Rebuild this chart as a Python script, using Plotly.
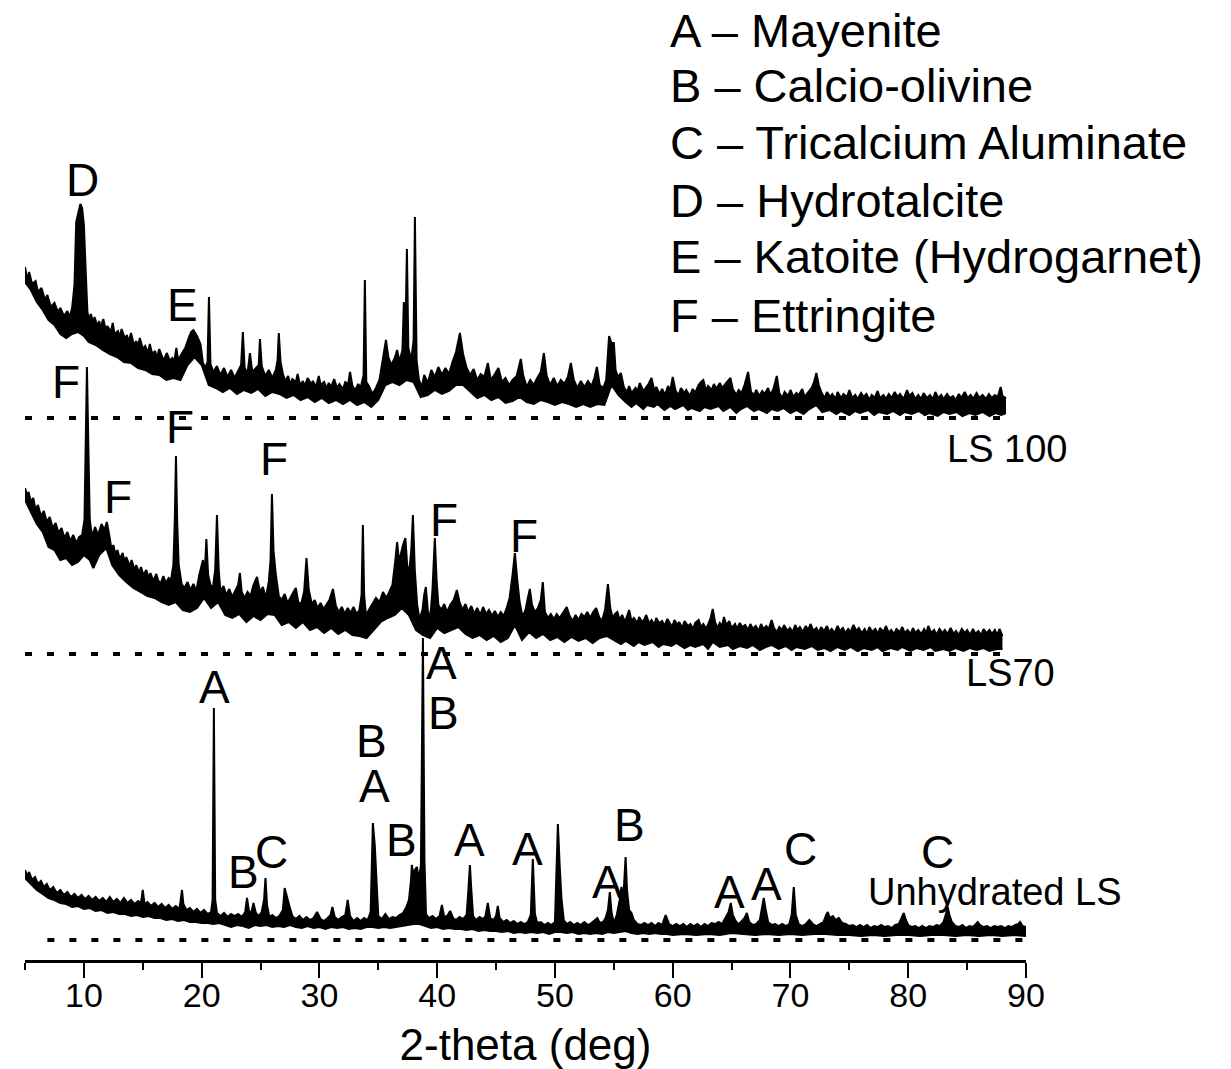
import plotly.graph_objects as go

# ---------------- data: (2-theta [deg], stacked intensity [a.u.]) ----------------
# upper / lower edges of each noisy diffractogram band
ls100_top = [(5.0, 693), (5.2, 680), (5.35, 688), (5.6, 676), (5.9, 679), (6.1, 668), (6.4, 672), (6.7, 660),
    (6.9, 665), (7.2, 653), (7.5, 657), (7.8, 648), (8.0, 652), (8.3, 644), (8.6, 649), (8.8, 643), (9.0, 652),
    (9.2, 675), (9.35, 738), (9.5, 745), (9.7, 756), (9.85, 752), (10.0, 735), (10.15, 690),
    (10.3, 648), (10.45, 641), (10.6, 646), (10.8, 636), (10.9, 643), (11.15, 634), (11.3, 639), (11.4, 632),
    (11.65, 641), (11.85, 630), (12.0, 634), (12.3, 628), (12.45, 637), (12.6, 626), (12.9, 629), (13.05, 622),
    (13.2, 631), (13.5, 621), (13.65, 625), (13.8, 618), (14.0, 627), (14.25, 615), (14.45, 619), (14.6, 613),
    (14.75, 622), (15.0, 611), (15.2, 614), (15.45, 607), (15.6, 616), (15.8, 606), (16.05, 609), (16.2, 602),
    (16.4, 611), (16.65, 603), (16.8, 600), (17.05, 607), (17.3, 599), (17.5, 602),
    (17.7, 600), (17.85, 612), (18.0, 600), (18.3, 606), (18.6, 612), (18.9, 622), (19.1, 628),
    (19.3, 630), (19.6, 624), (19.9, 616), (20.1, 598), (20.3, 592), (20.5, 598), (20.62, 663), (20.75, 596),
    (21.0, 588), (21.3, 594), (21.6, 585), (21.9, 592), (22.2, 583), (22.5, 590), (22.8, 582), (23.1, 590),
    (23.35, 595), (23.5, 628), (23.65, 592), (23.9, 587), (24.1, 607), (24.3, 588), (24.6, 592), (24.85, 595),
    (24.95, 621), (25.1, 594), (25.4, 584), (25.7, 590), (26.0, 582), (26.3, 590), (26.45, 600), (26.55, 627),
    (26.7, 598), (26.9, 586), (27.1, 579), (27.35, 584), (27.5, 576), (27.7, 581), (28.0, 578), (28.15, 586),
    (28.35, 575), (28.6, 579), (28.75, 574), (29.0, 582), (29.3, 576), (29.45, 579), (29.7, 573), (29.95, 584),
    (30.1, 575), (30.4, 578), (30.6, 572), (30.8, 577), (31.0, 573), (31.25, 581), (31.5, 572), (31.7, 576),
    (32.0, 571), (32.2, 578), (32.45, 576), (32.6, 588), (32.8, 574), (33.05, 570), (33.3, 576), (33.5, 572),
    (33.75, 585), (33.86, 680), (33.98, 578), (34.2, 574), (34.5, 566), (34.8, 572), (35.1, 580), (35.4, 600),
    (35.65, 620), (35.85, 603), (36.1, 595), (36.4, 602), (36.6, 610), (36.8, 598), (37.05, 610), (37.17, 658),
    (37.28, 608), (37.43, 711), (37.55, 612), (37.8, 600), (38.0, 620), (38.11, 743), (38.25, 600), (38.45, 580),
    (38.7, 573), (38.9, 585), (39.2, 577), (39.5, 590), (39.8, 583), (40.1, 593), (40.4, 585), (40.7, 592),
    (41.0, 586), (41.3, 598), (41.6, 608), (41.93, 627), (42.2, 606), (42.5, 592), (42.8, 585), (43.1, 591),
    (43.4, 580), (43.7, 586), (44.0, 583), (44.3, 597), (44.55, 580), (44.9, 586), (45.2, 592), (45.5, 578),
    (45.8, 582), (46.1, 575), (46.4, 580), (46.75, 584), (47.0, 598), (47.1, 601), (47.3, 585), (47.6, 573),
    (47.9, 580), (48.2, 575), (48.5, 582), (48.8, 588), (49.06, 607), (49.3, 584), (49.6, 575), (49.9, 582),
    (50.2, 574), (50.5, 580), (50.8, 576), (51.1, 583), (51.35, 597), (51.6, 580), (51.9, 572), (52.2, 579),
    (52.5, 573), (52.8, 579), (53.1, 574), (53.35, 582), (53.56, 593), (53.8, 575), (54.1, 572), (54.35, 580),
    (54.6, 624), (54.8, 617), (55.0, 617), (55.15, 590), (55.35, 583), (55.6, 587), (55.85, 573),
    (56.1, 568), (56.3, 574), (56.5, 567), (56.85, 572), (57.0, 568), (57.2, 577), (57.5, 569), (57.7, 572),
    (57.95, 576), (58.2, 582), (58.45, 569), (58.6, 573), (58.9, 566), (59.1, 571), (59.35, 565), (59.6, 574),
    (59.8, 570), (60.0, 583), (60.25, 569), (60.5, 565), (60.7, 572), (61.0, 567), (61.15, 570), (61.45, 564),
    (61.7, 571), (61.9, 567), (62.2, 575), (62.4, 578), (62.6, 580), (62.85, 569), (63.0, 574), (63.3, 570),
    (63.5, 576), (63.7, 571), (64.0, 577), (64.2, 572), (64.45, 576), (64.7, 580), (64.9, 582), (65.1, 571),
    (65.4, 565), (65.6, 570), (65.85, 567), (66.1, 575), (66.4, 588), (66.65, 568), (66.9, 565), (67.1, 570),
    (67.35, 564), (67.6, 569), (67.8, 566), (68.1, 572), (68.3, 565), (68.55, 571), (68.84, 584), (69.05, 567),
    (69.3, 562), (69.5, 568), (69.8, 564), (70.0, 570), (70.25, 563), (70.5, 567), (70.7, 565), (71.0, 571),
    (71.2, 563), (71.45, 567), (71.8, 572), (72.0, 578), (72.2, 587), (72.4, 575), (72.65, 567), (72.9, 562),
    (73.1, 568), (73.4, 563), (73.55, 566), (73.85, 561), (74.0, 568), (74.3, 562), (74.5, 566), (74.8, 563),
    (75.0, 570), (75.25, 562), (75.5, 565), (75.7, 561), (76.0, 567), (76.2, 563), (76.45, 566), (76.7, 560),
    (76.9, 565), (77.15, 562), (77.4, 569), (77.6, 562), (77.9, 565), (78.1, 561), (78.35, 566), (78.6, 562),
    (78.85, 568), (79.1, 563), (79.3, 566), (79.6, 561), (79.9, 570), (80.1, 564), (80.35, 567), (80.6, 561),
    (80.85, 565), (81.1, 561), (81.3, 567), (81.6, 562), (81.85, 565), (82.1, 561), (82.3, 568), (82.55, 562),
    (82.8, 565), (83.0, 561), (83.3, 566), (83.55, 562), (83.8, 564), (84.05, 560), (84.3, 566), (84.5, 562),
    (84.8, 568), (85.05, 562), (85.3, 565), (85.5, 561), (85.8, 567), (86.05, 562), (86.3, 565), (86.6, 561),
    (86.85, 566), (87.1, 562), (87.35, 565), (87.6, 563), (87.85, 573), (88.0, 564), (88.3, 562)]

ls100_bottom = [(5.0, 678), (5.5, 670), (6.0, 658), (6.5, 650), (7.0, 640), (7.5, 635), (8.0, 626), (8.5, 622),
    (9.0, 626), (9.5, 628), (10.0, 624), (10.4, 618), (11.0, 615), (11.6, 610), (12.2, 606), (12.8, 603),
    (13.4, 598), (14.0, 597), (14.6, 592), (15.2, 590), (15.8, 586), (16.4, 585), (17.0, 580), (17.6, 582),
    (18.2, 580), (18.8, 595), (19.4, 603), (20.0, 595), (20.6, 575), (21.2, 572), (21.8, 568), (22.4, 572),
    (23.0, 566), (23.6, 570), (24.2, 567), (24.8, 571), (25.4, 564), (26.0, 568), (26.6, 566), (27.2, 562),
    (27.8, 565), (28.4, 560), (29.0, 563), (29.6, 558), (30.2, 562), (30.8, 557), (31.4, 560), (32.0, 556),
    (32.6, 560), (33.2, 555), (33.8, 558), (34.4, 553), (35.0, 560), (35.6, 575), (36.2, 578), (36.8, 575),
    (37.4, 580), (38.0, 578), (38.6, 563), (39.2, 565), (39.8, 570), (40.4, 566), (41.0, 569), (41.6, 575),
    (42.2, 575), (42.8, 568), (43.4, 562), (44.0, 565), (44.6, 560), (45.2, 563), (45.8, 557), (46.4, 559),
    (47.0, 563), (47.6, 558), (48.2, 556), (48.8, 560), (49.4, 558), (50.0, 555), (50.6, 558), (51.2, 556),
    (51.8, 553), (52.4, 556), (53.0, 553), (53.6, 556), (54.2, 555), (54.8, 575), (55.4, 565),
    (56.0, 558), (56.5, 553), (56.9, 557), (57.5, 551), (57.8, 555), (58.4, 553), (58.7, 556), (59.3, 550),
    (59.8, 554), (60.2, 551), (60.9, 555), (61.3, 550), (61.6, 552), (62.3, 549), (62.7, 553), (63.2, 551),
    (63.9, 554), (64.3, 549), (64.9, 553), (65.4, 547), (65.8, 551), (66.3, 554), (66.9, 549), (67.3, 551),
    (68.0, 547), (68.4, 551), (68.9, 549), (69.4, 552), (70.0, 547), (70.5, 550), (71.1, 546), (71.5, 550),
    (72.2, 555), (72.7, 548), (73.3, 550), (73.9, 546), (74.3, 549), (75.0, 545), (75.5, 549), (75.9, 547),
    (76.6, 550), (77.1, 545), (77.5, 548), (78.2, 546), (78.7, 549), (79.3, 545), (79.7, 548), (80.3, 546),
    (80.9, 549), (81.4, 545), (81.8, 547), (82.5, 544), (83.0, 548), (83.5, 546), (84.1, 548), (84.6, 544),
    (85.2, 547), (85.7, 545), (86.3, 548), (86.9, 544), (87.4, 547), (87.9, 545), (88.3, 547)]

ls70_top = [(5.0, 472), (5.15, 465), (5.3, 468), (5.5, 458), (5.7, 462), (5.9, 450), (6.1, 455), (6.35, 444),
    (6.6, 449), (6.85, 438), (7.1, 443), (7.35, 432), (7.6, 437), (7.85, 427), (8.1, 432), (8.35, 422),
    (8.6, 428), (8.85, 419), (9.1, 425), (9.35, 417), (9.6, 423), (9.85, 425), (10.05, 440), (10.15, 520),
    (10.26, 593), (10.37, 520), (10.5, 440), (10.7, 423), (10.95, 433), (11.2, 425), (11.5, 436), (11.75, 430),
    (11.95, 438), (12.15, 425), (12.35, 410), (12.5, 415), (12.7, 405), (12.85, 410), (13.05, 401), (13.3, 407),
    (13.45, 398), (13.6, 403), (13.9, 394), (14.05, 400), (14.3, 390), (14.45, 395), (14.7, 387), (14.85, 393),
    (15.05, 385), (15.3, 390), (15.5, 382), (15.65, 387), (15.9, 379), (16.15, 386), (16.3, 380), (16.5, 376),
    (16.75, 384), (16.95, 377), (17.2, 382), (17.4, 380), (17.6, 395),
    (17.72, 440), (17.82, 504), (17.92, 440), (18.05, 395), (18.3, 376), (18.55, 372), (18.8, 378), (19.05, 370),
    (19.3, 376), (19.55, 369), (19.8, 385), (19.95, 392), (20.11, 400), (20.25, 384), (20.4, 421), (20.55, 385),
    (20.75, 375), (20.95, 372), (21.15, 390), (21.3, 445), (21.45, 390), (21.6, 368), (21.85, 374), (22.1, 365),
    (22.35, 371), (22.6, 363), (22.85, 369), (23.1, 375), (23.25, 387), (23.4, 368), (23.65, 362), (23.9, 368),
    (24.15, 364), (24.4, 375), (24.7, 383), (24.95, 368), (25.2, 373), (25.45, 362), (25.7, 378), (25.85, 400),
    (25.97, 466), (26.1, 410), (26.3, 385), (26.55, 364), (26.8, 360), (27.05, 366), (27.3, 357), (27.55, 363),
    (27.8, 368), (28.0, 372), (28.2, 358), (28.45, 356), (28.7, 368), (28.9, 402), (29.1, 370), (29.35, 356),
    (29.6, 360), (29.85, 352), (30.1, 357), (30.35, 351), (30.6, 356), (30.85, 360), (31.15, 371), (31.4, 354),
    (31.65, 348), (31.9, 353), (32.15, 346), (32.4, 352), (32.65, 347), (32.9, 353), (33.15, 346), (33.4, 350),
    (33.58, 365), (33.69, 435), (33.8, 365), (33.95, 345), (34.2, 350), (34.5, 356), (34.8, 362), (35.1, 358),
    (35.4, 368), (35.7, 362), (35.95, 368), (36.2, 375), (36.45, 400), (36.6, 418), (36.75, 400), (36.9, 405),
    (37.1, 415), (37.3, 422), (37.45, 395), (37.6, 385), (37.8, 410), (37.94, 445), (38.1, 390), (38.3, 355),
    (38.5, 341), (38.75, 350), (38.9, 365), (39.04, 373), (39.2, 350), (39.4, 340), (39.6, 370), (39.8, 422),
    (39.95, 380), (40.1, 355), (40.35, 350), (40.6, 356), (40.85, 348), (41.1, 355), (41.4, 360), (41.67, 370),
    (41.9, 358), (42.15, 350), (42.4, 356), (42.65, 348), (42.9, 354), (43.15, 346), (43.4, 352), (43.65, 345),
    (43.9, 353), (44.15, 346), (44.4, 350), (44.65, 344), (44.9, 349), (45.15, 343), (45.4, 348), (45.65, 344),
    (45.9, 352), (46.15, 362), (46.4, 385), (46.6, 407), (46.8, 380), (47.0, 358), (47.25, 343), (47.5, 350),
    (47.7, 362), (47.87, 371), (48.05, 355), (48.3, 348), (48.55, 352), (48.8, 360), (48.97, 378), (49.15, 348),
    (49.4, 342), (49.65, 346), (49.9, 341), (50.15, 346), (50.4, 342), (50.7, 348), (51.0, 353), (51.25, 344),
    (51.5, 339), (51.75, 345), (52.0, 340), (52.25, 346), (52.5, 343), (52.75, 348), (53.0, 342), (53.25, 348),
    (53.5, 352), (53.75, 343), (54.0, 339), (54.25, 350), (54.5, 376), (54.7, 352), (54.9, 342),
    (55.1, 346), (55.3, 348), (55.5, 340), (55.7, 345), (55.95, 338), (56.1, 343), (56.3, 350), (56.5, 339),
    (56.7, 342), (57.0, 337), (57.15, 343), (57.4, 338), (57.6, 341), (57.75, 345), (58.0, 337), (58.2, 340),
    (58.45, 335), (58.6, 342), (58.85, 337), (59.1, 339), (59.3, 334), (59.55, 341), (59.7, 338), (59.95, 333),
    (60.15, 340), (60.4, 335), (60.55, 338), (60.8, 332), (61.0, 339), (61.3, 334), (61.5, 336), (61.75, 331),
    (61.9, 337), (62.2, 340), (62.4, 333), (62.6, 336), (62.85, 331), (63.05, 337), (63.2, 341), (63.4, 351),
    (63.6, 338), (63.8, 332), (64.0, 337), (64.2, 334), (64.35, 343), (64.55, 335), (64.8, 339), (65.0, 332),
    (65.3, 336), (65.45, 331), (65.7, 337), (65.9, 333), (66.15, 335), (66.4, 330), (66.6, 336), (66.8, 331),
    (67.05, 334), (67.3, 329), (67.5, 336), (67.7, 331), (67.95, 334), (68.15, 331), (68.4, 340), (68.6, 332),
    (68.85, 328), (69.05, 333), (69.3, 330), (69.45, 335), (69.75, 329), (69.95, 332), (70.2, 328), (70.4, 335),
    (70.6, 330), (70.8, 333), (71.05, 328), (71.3, 334), (71.5, 330), (71.7, 336), (71.95, 329), (72.2, 332),
    (72.4, 327), (72.6, 333), (72.85, 329), (73.1, 334), (73.3, 328), (73.5, 331), (73.75, 327), (74.0, 334),
    (74.2, 329), (74.45, 332), (74.65, 327), (74.9, 331), (75.1, 328), (75.35, 335), (75.6, 329), (75.8, 332),
    (76.05, 327), (76.3, 331), (76.5, 326), (76.7, 333), (76.95, 328), (77.2, 331), (77.45, 326), (77.6, 332),
    (77.9, 328), (78.1, 334), (78.35, 327), (78.55, 330), (78.8, 326), (79.0, 331), (79.3, 328), (79.5, 333),
    (79.7, 327), (79.95, 330), (80.2, 326), (80.4, 332), (80.6, 327), (80.85, 330), (81.1, 326), (81.35, 331),
    (81.55, 327), (81.7, 334), (81.95, 327), (82.2, 330), (82.4, 325), (82.65, 331), (82.9, 327), (83.1, 330),
    (83.35, 326), (83.6, 332), (83.85, 326), (84.05, 329), (84.3, 325), (84.55, 331), (84.8, 327), (85.0, 330),
    (85.25, 325), (85.5, 331), (85.7, 326), (85.95, 329), (86.2, 325), (86.4, 331), (86.65, 327), (86.9, 330),
    (87.1, 326), (87.35, 330), (87.55, 325), (87.75, 331), (88.0, 324)]

ls70_bottom = [(5.0, 460), (5.5, 448), (6.0, 436), (6.5, 428), (7.0, 413), (7.5, 410), (8.0, 400), (8.5, 402),
    (9.0, 395), (9.5, 398), (10.0, 405), (10.5, 400), (10.8, 392), (11.3, 405), (11.9, 412), (12.4, 395),
    (13.0, 385), (13.6, 378), (14.2, 372), (14.8, 368), (15.4, 364), (16.0, 362), (16.6, 358), (17.2, 355),
    (17.8, 358), (18.4, 350), (19.0, 348), (19.6, 352), (20.2, 362), (20.8, 352), (21.4, 358), (22.0, 345),
    (22.6, 342), (23.2, 346), (23.8, 338), (24.4, 344), (25.0, 340), (25.6, 346), (26.2, 345), (26.8, 335),
    (27.4, 338), (28.0, 332), (28.6, 338), (29.2, 330), (29.8, 333), (30.4, 327), (31.0, 332), (31.6, 326),
    (32.2, 330), (32.8, 325), (33.4, 324), (34.0, 322), (34.6, 330), (35.2, 338), (35.8, 342), (36.4, 345),
    (37.0, 352), (37.6, 345), (38.2, 330), (38.8, 325), (39.4, 322), (40.0, 332), (40.6, 327), (41.2, 330),
    (41.8, 333), (42.4, 326), (43.0, 322), (43.6, 325), (44.2, 320), (44.8, 324), (45.4, 318), (46.0, 322),
    (46.6, 335), (47.2, 320), (47.8, 328), (48.4, 322), (49.0, 326), (49.6, 320), (50.2, 323), (50.8, 318),
    (51.4, 323), (52.0, 319), (52.6, 322), (53.2, 317), (53.8, 322), (54.4, 324),
    (55.0, 320), (55.6, 316), (56.0, 319), (56.7, 314), (57.1, 318), (57.6, 315), (58.3, 318), (58.8, 313),
    (59.2, 316), (59.9, 314), (60.3, 317), (61.0, 312), (61.5, 315), (61.9, 313), (62.6, 316), (63.0, 311),
    (63.4, 318), (64.0, 313), (64.7, 315), (65.1, 311), (65.7, 314), (66.3, 312), (66.8, 315), (67.4, 310),
    (67.9, 313), (68.4, 315), (69.0, 311), (69.6, 314), (70.1, 310), (70.5, 313), (71.2, 311), (71.8, 314),
    (72.3, 310), (72.9, 312), (73.4, 309), (74.0, 313), (74.6, 310), (75.1, 313), (75.7, 309), (76.2, 312),
    (76.9, 310), (77.4, 313), (77.8, 309), (78.5, 312), (79.1, 310), (79.5, 313), (80.2, 309), (80.7, 312),
    (81.3, 310), (81.9, 313), (82.3, 309), (83.0, 311), (83.5, 309), (84.0, 312), (84.7, 309), (85.2, 312),
    (85.8, 310), (86.4, 312), (86.9, 309), (87.5, 311), (88.0, 311)]

unh_top = [(5.0, 90), (5.2, 84), (5.35, 88), (5.6, 80), (5.85, 83), (6.1, 76), (6.35, 79), (6.6, 73), (6.85, 76),
    (7.1, 70), (7.4, 73), (7.7, 67), (8.0, 70), (8.3, 65), (8.6, 68), (8.9, 63), (9.2, 66), (9.5, 62), (9.8, 65),
    (10.1, 61), (10.4, 64), (10.7, 60), (11.0, 63), (11.3, 59), (11.6, 62), (11.9, 58), (12.2, 63), (12.5, 58),
    (12.8, 61), (13.1, 57), (13.4, 62), (13.7, 57), (14.0, 60), (14.3, 56), (14.6, 59), (14.85, 57), (15.0, 70),
    (15.15, 56), (15.4, 58), (15.7, 54), (16.0, 57), (16.3, 53), (16.6, 56), (16.9, 52), (17.2, 55), (17.5, 51),
    (17.8, 54), (18.1, 51), (18.2, 58), (18.33, 70), (18.45, 56), (18.7, 50), (19.0, 52), (19.3, 48), (19.6, 51),
    (19.9, 47), (20.2, 50), (20.5, 46), (20.8, 48), (20.93, 60), (21.04, 252), (21.15, 60), (21.3, 47),
    (21.6, 44), (21.9, 47), (22.2, 43), (22.5, 46), (22.8, 44), (23.1, 46), (23.4, 43), (23.7, 48), (23.85, 62),
    (24.0, 50), (24.2, 46), (24.4, 57), (24.6, 47), (24.85, 44), (25.1, 48), (25.3, 60), (25.42, 82), (25.55, 55),
    (25.75, 43), (26.0, 45), (26.3, 42), (26.6, 44), (26.9, 50), (27.05, 72), (27.25, 62), (27.45, 54),
    (27.7, 44), (28.0, 41), (28.3, 44), (28.6, 40), (28.9, 43), (29.2, 40), (29.5, 42), (29.8, 48), (30.1, 41),
    (30.4, 39), (30.7, 42), (30.95, 45), (31.1, 53), (31.3, 43), (31.6, 40), (31.9, 43), (32.2, 45), (32.4, 60),
    (32.6, 44), (32.9, 39), (33.2, 42), (33.5, 39), (33.8, 42), (34.1, 40), (34.35, 48), (34.54, 137),
    (34.7, 115), (34.85, 80), (35.0, 44), (35.3, 41), (35.6, 46), (35.9, 41), (36.2, 43), (36.5, 42), (36.8, 45),
    (37.1, 47), (37.35, 52), (37.6, 60), (37.78, 80), (37.85, 95), (38.0, 82), (38.1, 90), (38.28, 93),
    (38.45, 80), (38.62, 95), (38.79, 322), (38.92, 100), (39.05, 46), (39.3, 42), (39.6, 44), (39.9, 41),
    (40.2, 44), (40.4, 55), (40.6, 43), (40.85, 44), (41.1, 49), (41.35, 42), (41.6, 40), (41.9, 43), (42.2, 41),
    (42.5, 45), (42.65, 70), (42.78, 95), (42.9, 70), (43.05, 44), (43.3, 40), (43.6, 43), (43.9, 41), (44.1, 44),
    (44.3, 57), (44.5, 42), (44.8, 40), (45.0, 44), (45.15, 54), (45.3, 42), (45.6, 38), (45.9, 40), (46.2, 37),
    (46.5, 39), (46.8, 36), (47.1, 38), (47.4, 36), (47.7, 38), (47.95, 45), (48.12, 101), (48.3, 46), (48.5, 37),
    (48.8, 38), (49.1, 35), (49.4, 37), (49.7, 35), (50.0, 38), (50.12, 80), (50.25, 136), (50.4, 95),
    (50.55, 62), (50.75, 40), (51.0, 36), (51.3, 38), (51.6, 35), (51.9, 37), (52.2, 35), (52.5, 38), (52.8, 35),
    (53.1, 37), (53.4, 40), (53.6, 42), (53.8, 37), (54.1, 38), (54.3, 42), (54.5, 50), (54.66, 68), (54.8, 48),
    (55.0, 37), (55.25, 45), (55.5, 60), (55.65, 73), (55.8, 60), (55.9, 80), (56.0, 103), (56.12, 70),
    (56.3, 50), (56.5, 47), (56.7, 40), (57.0, 36), (57.3, 35), (57.6, 37), (57.9, 35), (58.2, 37), (58.5, 34),
    (58.8, 37), (59.1, 35), (59.4, 45), (59.7, 36), (60.0, 34), (60.3, 36), (60.6, 34), (60.9, 36), (61.2, 33),
    (61.5, 36), (61.8, 34), (62.1, 36), (62.4, 33), (62.7, 36), (63.0, 34), (63.3, 37), (63.6, 36), (63.9, 38),
    (64.2, 36), (64.5, 42), (64.75, 48), (64.93, 57), (65.1, 45), (65.3, 40), (65.55, 36), (65.8, 38), (66.1, 42),
    (66.3, 47), (66.5, 38), (66.8, 35), (67.1, 36), (67.4, 40), (67.6, 52), (67.73, 62), (67.9, 50), (68.1, 38),
    (68.4, 35), (68.7, 36), (69.0, 34), (69.3, 36), (69.6, 34), (69.9, 36), (70.1, 45), (70.28, 73), (70.45, 45),
    (70.7, 36), (71.0, 34), (71.3, 36), (71.6, 40), (71.9, 36), (72.2, 34), (72.5, 36), (72.8, 38), (73.0, 44),
    (73.17, 48), (73.35, 42), (73.6, 44), (73.85, 40), (74.1, 42), (74.4, 37), (74.7, 36), (75.0, 34), (75.3, 35),
    (75.6, 33), (75.9, 35), (76.2, 33), (76.5, 35), (76.8, 32), (77.1, 34), (77.4, 33), (77.7, 35), (78.0, 33),
    (78.3, 34), (78.6, 32), (78.9, 35), (79.2, 36), (79.45, 42), (79.62, 47), (79.8, 40), (80.0, 35), (80.3, 33),
    (80.6, 34), (80.9, 32), (81.2, 34), (81.5, 32), (81.8, 34), (82.1, 33), (82.4, 35), (82.7, 34), (83.0, 38),
    (83.2, 46), (83.35, 53), (83.5, 45), (83.7, 38), (84.0, 34), (84.3, 33), (84.6, 35), (84.9, 32), (85.2, 34),
    (85.5, 33), (85.75, 36), (85.9, 38), (86.1, 35), (86.4, 33), (86.7, 34), (87.0, 32), (87.3, 34), (87.6, 33),
    (87.9, 34), (88.2, 32), (88.5, 34), (88.8, 33), (89.1, 35), (89.35, 36), (89.5, 38), (89.7, 34), (90.0, 33)]

unh_bottom = [(5.0, 82), (5.5, 76), (6.0, 70), (6.5, 66), (7.0, 62), (7.5, 60), (8.0, 57), (8.5, 56), (9.0, 53),
    (9.5, 54), (10.0, 51), (10.5, 52), (11.0, 49), (11.5, 50), (12.0, 47), (12.5, 48), (13.0, 46), (13.5, 46),
    (14.0, 44), (14.5, 45), (15.0, 43), (15.5, 44), (16.0, 42), (16.5, 42), (17.0, 40), (17.5, 41), (18.0, 39),
    (18.5, 40), (19.0, 38), (19.5, 38), (20.0, 37), (20.5, 37), (21.0, 36), (21.5, 37), (22.0, 35), (22.5, 33),
    (23.0, 35), (23.5, 34), (24.0, 32), (24.5, 35), (25.0, 34), (25.5, 35), (26.0, 33), (26.5, 34), (27.0, 33),
    (27.5, 35), (28.0, 33), (28.5, 32), (29.0, 34), (29.5, 32), (30.0, 33), (30.5, 31), (31.0, 33), (31.5, 32),
    (32.0, 33), (32.5, 31), (33.0, 32), (33.5, 31), (34.0, 33), (34.5, 33), (35.0, 32), (35.5, 33), (36.0, 32),
    (36.5, 33), (37.0, 34), (37.5, 35), (38.0, 36), (38.5, 36), (39.0, 34), (39.5, 32), (40.0, 33), (40.5, 31),
    (41.0, 32), (41.5, 31), (42.0, 31), (42.5, 30), (43.0, 31), (43.5, 29), (44.0, 30), (44.5, 29), (45.0, 29),
    (45.5, 28), (46.0, 29), (46.5, 27), (47.0, 28), (47.5, 27), (48.0, 28), (48.5, 27), (49.0, 28), (49.5, 26),
    (50.0, 28), (50.5, 28), (51.0, 27), (51.5, 28), (52.0, 26), (52.5, 27), (53.0, 26), (53.5, 27), (54.0, 26),
    (54.5, 28), (55.0, 27), (55.5, 28), (56.0, 29), (56.5, 27), (57.0, 26), (57.5, 27), (58.0, 26), (58.5, 27),
    (59.0, 26), (59.5, 26), (60.0, 25), (61.0, 26), (62.0, 25), (63.0, 26), (64.0, 25), (65.0, 27), (66.0, 26),
    (67.0, 25), (68.0, 26), (69.0, 25), (70.0, 26), (71.0, 25), (72.0, 26), (73.0, 26), (74.0, 25), (75.0, 25),
    (76.0, 24), (77.0, 25), (78.0, 24), (79.0, 25), (80.0, 25), (81.0, 24), (82.0, 25), (83.0, 25), (84.0, 24),
    (85.0, 25), (86.0, 24), (87.0, 25), (88.0, 24), (89.0, 25), (90.0, 24)]

baseline_level = [542, 306, 20]          # dotted zero line of each stacked pattern
baseline_start = [5.0, 5.0, 6.9]
baseline_end = [88.3, 88.0, 90.0]

sample_labels = ["LS 100", "LS70", "Unhydrated LS"]
sample_label_x = [88.4, 88.7, 87.4]
sample_label_y = [511, 287, 68]

peak_letters = ["D", "E",
                "F", "F", "F", "F", "F", "F",
                "A", "B", "A", "B", "B", "C", "A", "B", "A", "A", "A", "B", "A", "A", "C", "C"]
peak_letter_x = [9.84, 18.41,
                 8.48, 18.16, 12.89, 26.14, 40.57, 47.36,
                 21.13, 34.46, 34.71, 37.0, 23.59, 25.97, 40.4, 40.57, 42.78, 47.7, 54.49, 56.36, 64.85, 67.99,
                 70.87, 82.5]
peak_letter_y = [780, 655,
                 578, 533, 463, 501, 440, 424,
                 273, 219, 174, 120, 88, 108, 297, 247, 120, 111, 78, 135, 68, 76, 111, 108]

legend_lines = ["A \u2013 Mayenite", "B \u2013 Calcio-olivine", "C \u2013 Tricalcium Aluminate",
                "D \u2013 Hydrotalcite", "E \u2013 Katoite (Hydrogarnet)", "F \u2013 Ettringite"]
legend_x = 59.58
legend_y = [930, 875, 818, 760, 704, 645]

x_ticks = [10, 20, 30, 40, 50, 60, 70, 80, 90]
x_minor_ticks = [5, 15, 25, 35, 45, 55, 65, 75, 85]

# ---------------- figure ----------------
FONT = "Liberation Sans, Arial, sans-serif"
fig = go.Figure()


def band(bottom, top):
    bx, by = zip(*bottom)
    tx, ty = zip(*top)
    fig.add_trace(go.Scatter(x=bx, y=by, mode="lines", line=dict(color="black", width=2),
                             hoverinfo="skip", showlegend=False))
    fig.add_trace(go.Scatter(x=tx, y=ty, mode="lines", line=dict(color="black", width=2),
                             fill="tonexty", fillcolor="black", hoverinfo="skip", showlegend=False))


band(ls100_bottom, ls100_top)
band(ls70_bottom, ls70_top)
band(unh_bottom, unh_top)

for lvl, x0, x1 in zip(baseline_level, baseline_start, baseline_end):
    fig.add_trace(go.Scatter(x=[x0, x1], y=[lvl, lvl], mode="lines",
                             line=dict(color="black", width=4, dash="7px,15px"),
                             hoverinfo="skip", showlegend=False))

ann = []
for t, x, y in zip(peak_letters, peak_letter_x, peak_letter_y):
    ann.append(dict(x=x, y=y, xref="x", yref="y", text=t, showarrow=False,
                    xanchor="center", yanchor="middle", font=dict(family=FONT, size=46, color="black")))
for t, x, y in zip(sample_labels, sample_label_x, sample_label_y):
    ann.append(dict(x=x, y=y, xref="x", yref="y", text=t, showarrow=False,
                    xanchor="center", yanchor="middle", font=dict(family=FONT, size=38, color="black")))
for t, y in zip(legend_lines, legend_y):
    ann.append(dict(x=legend_x, y=y, xref="x", yref="y", text=t, showarrow=False,
                    xanchor="left", yanchor="middle", font=dict(family=FONT, size=47, color="black")))

fig.update_layout(
    width=1231, height=1069,
    margin=dict(l=25, r=205, t=0, b=109),
    paper_bgcolor="white", plot_bgcolor="white",
    annotations=ann,
    showlegend=False,
    xaxis=dict(range=[5, 90], tickvals=x_ticks, ticktext=[str(v) for v in x_ticks],
               showgrid=False, zeroline=False, showline=True, linecolor="black", linewidth=3,
               ticks="outside", ticklen=15, tickwidth=2, tickcolor="black",
               ticklabelstandoff=-12,
               minor=dict(tickvals=x_minor_ticks, ticks="outside", ticklen=7,
                          tickwidth=2, tickcolor="black", showgrid=False),
               tickfont=dict(family=FONT, size=34, color="black"),
               title=dict(text="2-theta (deg)", font=dict(family=FONT, size=44, color="black"), standoff=20)),
    yaxis=dict(range=[0, 960], visible=False, showgrid=False, zeroline=False),
)

fig.write_html("out.html")
